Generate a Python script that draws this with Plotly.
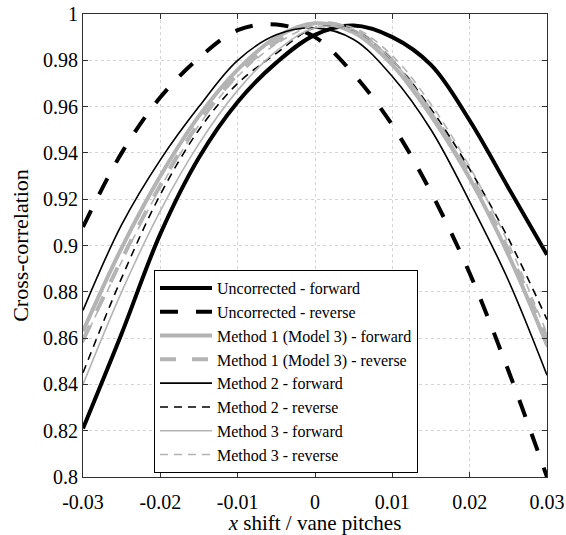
import plotly.graph_objects as go

x_shift = [-0.03, -0.025, -0.02, -0.015, -0.01, -0.005, 0.0, 0.005, 0.01, 0.015, 0.02, 0.025, 0.03]

uncorr_fwd = [0.821, 0.862, 0.905, 0.938, 0.962, 0.979, 0.991, 0.995, 0.990, 0.978, 0.954, 0.925, 0.896]
uncorr_rev = [0.908, 0.940, 0.964, 0.981, 0.993, 0.9955, 0.990, 0.974, 0.952, 0.923, 0.888, 0.846, 0.800]
m1_fwd = [0.863, 0.899, 0.930, 0.956, 0.976, 0.990, 0.996, 0.992, 0.978, 0.956, 0.929, 0.896, 0.857]
m1_rev = [0.859, 0.894, 0.926, 0.953, 0.974, 0.988, 0.996, 0.993, 0.980, 0.958, 0.931, 0.898, 0.860]
m2_fwd = [0.872, 0.909, 0.937, 0.960, 0.980, 0.991, 0.994, 0.989, 0.973, 0.950, 0.919, 0.885, 0.844]
m2_rev = [0.845, 0.886, 0.922, 0.950, 0.970, 0.983, 0.994, 0.993, 0.980, 0.959, 0.933, 0.903, 0.868]
m3_fwd = [0.840, 0.880, 0.915, 0.944, 0.967, 0.984, 0.994, 0.993, 0.980, 0.958, 0.930, 0.896, 0.856]
m3_rev = [0.858, 0.893, 0.925, 0.952, 0.973, 0.987, 0.995, 0.994, 0.982, 0.961, 0.934, 0.901, 0.862]

series_names = [
    "Uncorrected - forward", "Uncorrected - reverse",
    "Method 1 (Model 3) - forward", "Method 1 (Model 3) - reverse",
    "Method 2 - forward", "Method 2 - reverse",
    "Method 3 - forward", "Method 3 - reverse",
]
series_values = [uncorr_fwd, uncorr_rev, m1_fwd, m1_rev, m2_fwd, m2_rev, m3_fwd, m3_rev]

x_tickvals = [-0.03, -0.02, -0.01, 0, 0.01, 0.02, 0.03]
x_ticktext = ["-0.03", "-0.02", "-0.01", "0", "0.01", "0.02", "0.03"]
y_tickvals = [0.8, 0.82, 0.84, 0.86, 0.88, 0.9, 0.92, 0.94, 0.96, 0.98, 1.0]
y_ticktext = ["0.8", "0.82", "0.84", "0.86", "0.88", "0.9", "0.92", "0.94", "0.96", "0.98", "1"]

BLACK = "#000000"
GREY = "#b4b4b4"
styles = [
    dict(color=BLACK, width=4, dash="solid"),
    dict(color=BLACK, width=4, dash="18px,18px"),
    dict(color=GREY, width=4, dash="solid"),
    dict(color=GREY, width=4, dash="16px,16px"),
    dict(color=BLACK, width=1.6, dash="solid"),
    dict(color=BLACK, width=1.6, dash="8px,6px"),
    dict(color=GREY, width=1.6, dash="solid"),
    dict(color=GREY, width=1.6, dash="8px,6px"),
]

FONT = "Liberation Serif, Times New Roman, serif"

fig = go.Figure()
for name, vals, st in zip(series_names, series_values, styles):
    fig.add_trace(go.Scatter(
        x=x_shift, y=vals, mode="lines", name=name,
        line=dict(color=st["color"], width=st["width"], dash=st["dash"], shape="spline", smoothing=1.0),
    ))

axis_common = dict(
    showline=True, linecolor="#303030", linewidth=1, mirror="ticks",
    ticks="inside", ticklen=5, tickcolor="#303030",
    showgrid=True, gridcolor="#d4d4d4", gridwidth=1, griddash="dot",
    zeroline=False, automargin=False,
    tickfont=dict(family=FONT, size=20, color="#000000"),
)

fig.update_layout(
    width=566, height=535,
    margin=dict(l=83, r=19, t=14, b=58),
    paper_bgcolor="white", plot_bgcolor="white",
    font=dict(family=FONT, color="#000000"),
    xaxis=dict(range=[-0.03, 0.03], tickvals=x_tickvals, ticktext=x_ticktext,
               ticklabelstandoff=7,
               title=dict(text="<i>x</i> shift / vane pitches", font=dict(family=FONT, size=21), standoff=4),
               **axis_common),
    yaxis=dict(range=[0.8, 1.0], tickvals=y_tickvals, ticktext=y_ticktext,
               title=dict(text="Cross-correlation", font=dict(family=FONT, size=22), standoff=8),
               **axis_common),
    legend=dict(x=0.153, y=0.447, xanchor="left", yanchor="top",
                bgcolor="white", bordercolor="#000000", borderwidth=1,
                font=dict(family=FONT, size=16, color="#000000"),
                itemwidth=52, tracegroupgap=0),
    showlegend=True,
)

fig.write_html("out.html")
